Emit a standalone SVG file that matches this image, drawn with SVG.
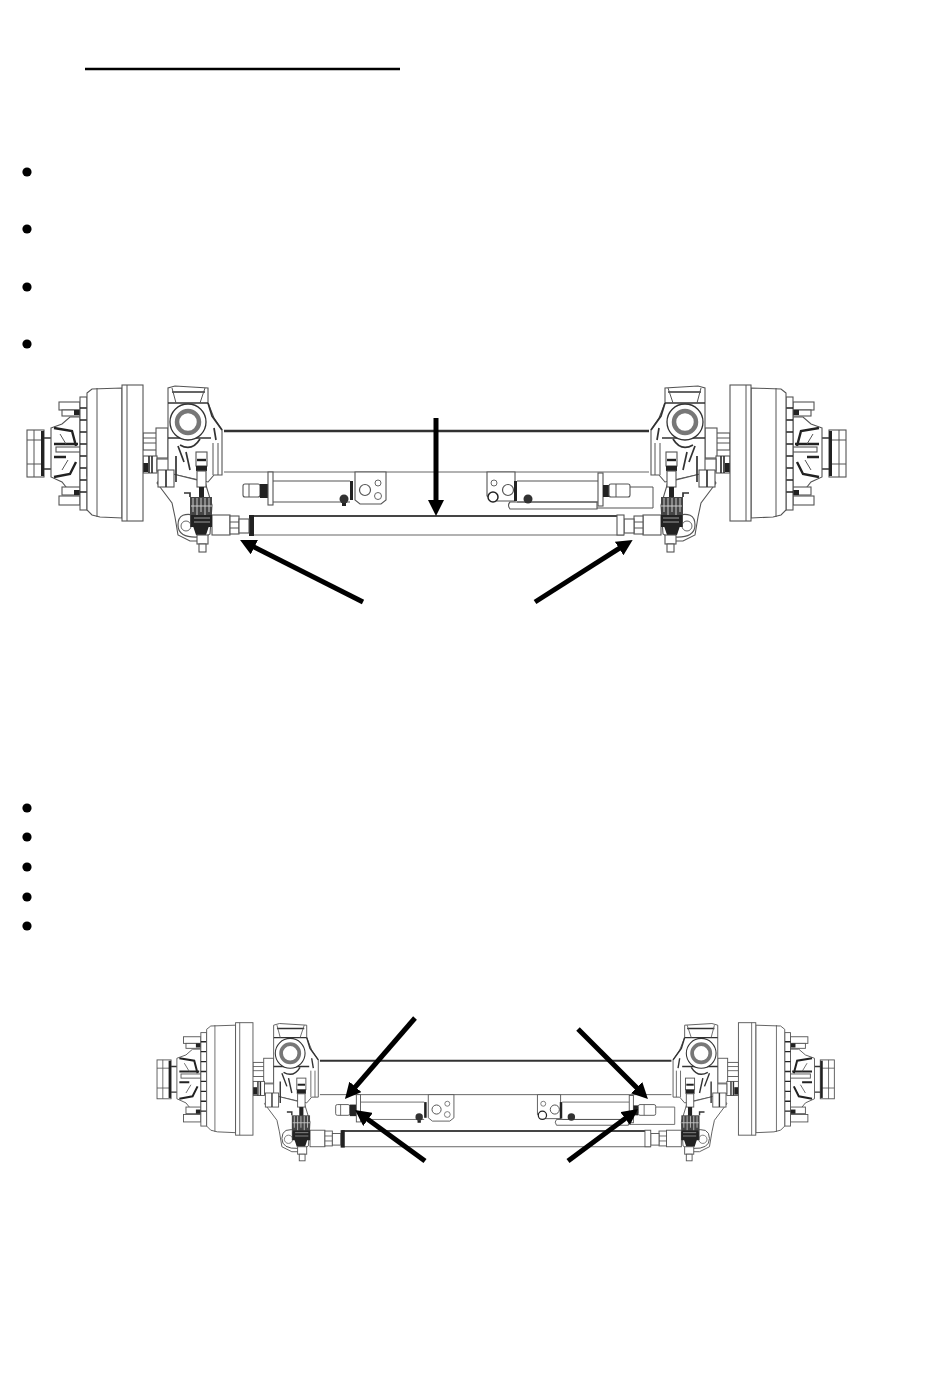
<svg xmlns="http://www.w3.org/2000/svg" xmlns:xlink="http://www.w3.org/1999/xlink" width="950" height="1378" viewBox="0 0 950 1378">
<style>
.l{fill:#fff;stroke:#555;stroke-width:1.1}
.n{fill:none;stroke:#555;stroke-width:1}
.t{fill:none;stroke:#333;stroke-width:1.7}
.h{fill:none;stroke:#222;stroke-width:2.4}
.d{fill:#222;stroke:none}
.arrow{fill:none;stroke:#000;stroke-width:5;marker-end:url(#head)}
.bullet{fill:#000}
</style>
<defs>
<marker id="head" markerUnits="userSpaceOnUse" viewBox="0 0 16 16" refX="8" refY="8" markerWidth="16" markerHeight="16" orient="auto"><path d="M0 0L16 8L0 16Z" fill="#000"/></marker>
<filter id="soft" x="-2%" y="-2%" width="104%" height="104%"><feGaussianBlur stdDeviation="0.5"/></filter>
<g id="end">
  <!-- spindle -->
  <rect class="l" x="143" y="433" width="14" height="17"/>
  <path class="n" d="M143 438H157M143 443H157"/>
  <rect class="l" x="156" y="428" width="12" height="30" stroke-width="1.4"/>
  <rect class="l" x="143" y="456" width="14" height="17" stroke-width="1.4"/>
  <rect class="d" x="143" y="463" width="5" height="9"/>
  <path class="t" d="M149 456V473M152 456V473"/>
  <rect class="l" x="157" y="459" width="16" height="12" stroke="#333" stroke-width="1.5"/>
  <!-- wheel hub -->
  <rect class="l" x="27" y="430" width="17" height="47" stroke="#444" stroke-width="1.5"/>
  <path class="n" d="M27 440H42M27 464H42M34 430V477"/>
  <rect class="d" x="41" y="431" width="3" height="45"/>
  <path class="t" d="M44 438H51M44 469H51"/>
  <path class="l" stroke="#333" stroke-width="1.5" d="M51 428L62 424L70 417H80V492H70L62 482L51 477Z"/>
  <path class="h" d="M54 428L72 431L76 446M54 477L70 474L76 462M54 444H78M54 457H66"/>
  <rect class="l" x="56" y="447" width="24" height="5"/>
  <path class="n" d="M60 434L66 444M62 470L68 460"/>
  <rect class="l" x="59" y="402" width="21" height="8" stroke="#333" stroke-width="1.5"/>
  <rect class="l" x="62" y="410" width="18" height="6"/>
  <rect class="l" x="62" y="487" width="18" height="8"/>
  <rect class="l" x="59" y="496" width="21" height="9" stroke="#333" stroke-width="1.5"/>
  <rect class="d" x="74" y="410" width="6" height="5"/>
  <rect class="d" x="74" y="490" width="6" height="5"/>
  <rect class="l" x="80" y="397" width="7" height="113" stroke="#333" stroke-width="1.6"/>
  <path d="M80 408H87M80 420H87M80 432H87M80 444H87M80 456H87M80 468H87M80 480H87M80 492H87" stroke="#222" stroke-width="1.6" fill="none"/>
  <rect class="l" x="87" y="467" width="6" height="9"/>
  <!-- drum -->
  <path class="l" stroke-width="1.4" d="M87 393L92 389L122 388V518L100 517L92 515L87 510Z"/>
  <path class="n" d="M97 388V517"/>
  <rect class="l" x="122" y="385" width="21" height="136" stroke-width="1.6"/>
  <path class="n" d="M127 385V521"/>
  <!-- knuckle -->
  <path class="l" stroke-width="1.5" d="M168 403V388L175 386L208 388V403L214 418L222 430V475H214L208 482L168 473Z"/>
  <path class="t" d="M168 403H208M172 392H205M168 438H211"/>
  <path class="n" d="M172 388L176 403M205 388L200 403M213 443V475M218 443V475"/>
  <path class="t" d="M208 403L212 416L222 430M214 428L216 440"/>
  <circle cx="188" cy="422" r="18" fill="#fff" stroke="#333" stroke-width="1.3"/>
  <circle cx="188" cy="422" r="11" fill="#fff" stroke="#777" stroke-width="4.5"/>
  <path class="t" d="M180 445Q192 452 200 439M178 446L184 462M186 452L190 470"/>
  <!-- drop arm -->
  <path class="l" stroke-width="1.3" d="M157 483L172 503L175 517L178 535L190 541L199 541L210 534L212 505L205 482L165 472Z"/>
  <rect class="l" x="158" y="470" width="16" height="17" stroke="#333" stroke-width="1.5"/>
  <path class="t" d="M166 470V487M176 456V482"/>
  <!-- eye -->
  <path d="M198 516Q178 510 178 525Q178 538 198 537" fill="none" stroke="#555" stroke-width="1.2"/>
  <circle cx="186" cy="526" r="5" fill="#fff" stroke="#666"/>
  <!-- tie rod end joint -->
  <rect class="l" x="212" y="515" width="18" height="20" stroke-width="1.4"/>
  <rect class="l" x="230" y="516" width="9" height="18" stroke="#333" stroke-width="1.5"/>
  <path class="n" d="M230 522H239M230 528H239"/>
  <rect class="l" x="239" y="519" width="10" height="14"/>
  <!-- vertical link -->
  <rect class="l" x="196" y="452" width="11" height="14" stroke="#333" stroke-width="1.7"/>
  <path class="h" d="M197 460H206"/>
  <rect class="d" x="196" y="466" width="11" height="5"/>
  <rect class="l" x="197" y="471" width="9" height="16" stroke="#222" stroke-width="2.2"/>
  <rect class="d" x="199" y="487" width="5" height="12"/>
  <rect x="190" y="497" width="22" height="30" fill="#444"/>
  <path d="M193 498V512M197 498V526M201 498V512M205 498V526M209 498V512M191 506H212M191 516H212" stroke="#ccc" stroke-width="1" fill="none"/>
  <rect class="d" x="191" y="515" width="21" height="12"/>
  <path d="M194 518H210M194 522H210" stroke="#999" stroke-width="1" fill="none"/>
  <path class="t" d="M184 493H190V497"/>
  <path class="d" d="M193 526H209L206 535H196Z"/>
  <rect class="l" x="197" y="535" width="11" height="9" stroke="#222" stroke-width="1.8"/>
  <rect class="l" x="199" y="544" width="7" height="8" stroke="#222" stroke-width="1.5"/>
</g>
<g id="axle">
  <!-- axle tube -->
  <path d="M224 431H649" stroke="#333" stroke-width="2.4" fill="none"/>
  <path d="M224 472H649" stroke="#666" stroke-width="1.2" fill="none"/>
  <!-- left cylinder -->
  <rect class="l" x="243" y="484" width="17" height="13" rx="2" stroke-width="1.5"/>
  <path class="n" d="M249 484V497"/>
  <rect class="d" x="260" y="484" width="8" height="14"/>
  <rect class="l" x="268" y="472" width="5" height="33"/>
  <path class="n" d="M273 481H350M273 502H350"/>
  <rect class="d" x="350" y="481" width="3" height="19"/>
  <path class="l" d="M355 472H386V500L381 504H360L355 500Z"/>
  <circle cx="365" cy="490" r="5.5" fill="#fff" stroke="#555" stroke-width="1.2"/>
  <circle cx="378" cy="483" r="3" fill="#fff" stroke="#666"/>
  <circle cx="378" cy="496" r="3.5" fill="#fff" stroke="#666"/>
  <circle cx="344" cy="499" r="4.5" fill="#333"/>
  <rect class="d" x="342" y="503" width="4" height="3"/>
  <!-- right cylinder -->
  <path class="l" d="M487 472H515V501H497L487 496Z"/>
  <circle cx="494" cy="483" r="3" fill="#fff" stroke="#666"/>
  <circle cx="508" cy="490" r="5.5" fill="#fff" stroke="#555" stroke-width="1.2"/>
  <circle cx="493" cy="497" r="5" fill="#fff" stroke="#222" stroke-width="1.5"/>
  <path class="l" d="M510 502H597V509H510Q507 505 510 502Z"/>
  <path class="n" d="M517 481H598M517 502H598"/>
  <rect class="d" x="514" y="481" width="3" height="20"/>
  <circle cx="528" cy="499" r="4.5" fill="#333"/>
  <rect class="l" x="598" y="473" width="5" height="33"/>
  <rect class="d" x="603" y="485" width="6" height="12"/>
  <rect class="l" x="609" y="484" width="21" height="13" rx="2" stroke-width="1.5"/>
  <path class="n" d="M616 484V497M630 487H653V508H597"/>
  <!-- tie rod -->
  <path d="M250 516H624" stroke="#444" stroke-width="2.2" fill="none"/>
  <path d="M250 535H624" stroke="#666" stroke-width="1.2" fill="none"/>
  <rect class="d" x="249" y="515" width="5" height="21"/>
  <use xlink:href="#end" href="#end"/>
  <use xlink:href="#end" href="#end" transform="translate(873 0) scale(-1 1)"/>
  <rect class="l" x="617" y="515" width="7" height="20" stroke="#222" stroke-width="1.5"/>
</g>
</defs>
<g id="title-rule"><path d="M85 69H400" stroke="#000" stroke-width="2.4" fill="none"/></g>
<g id="bullets">
  <circle class="bullet" cx="27" cy="172" r="4.6"/>
  <circle class="bullet" cx="27" cy="229" r="4.6"/>
  <circle class="bullet" cx="27" cy="287" r="4.6"/>
  <circle class="bullet" cx="27" cy="344" r="4.6"/>
  <circle class="bullet" cx="27" cy="808" r="4.6"/>
  <circle class="bullet" cx="27" cy="837" r="4.6"/>
  <circle class="bullet" cx="27" cy="867" r="4.6"/>
  <circle class="bullet" cx="27" cy="897" r="4.6"/>
  <circle class="bullet" cx="27" cy="926" r="4.6"/>
</g>
<g id="axle-top" filter="url(#soft)"><use xlink:href="#axle" href="#axle"/></g>
<g id="axle-bottom" filter="url(#soft)"><use xlink:href="#axle" href="#axle" transform="translate(134.7 704.3) scale(.827)"/></g>
<g id="connectors">
  <path class="arrow" d="M436 418V508"/>
  <path class="arrow" d="M363 602L247.2 543.6"/>
  <path class="arrow" d="M535 602L625.9 544.2"/>
  <path class="arrow" d="M415 1018L350.2 1092.9"/>
  <path class="arrow" d="M425 1161L361.5 1114.7"/>
  <path class="arrow" d="M578 1029L642.3 1093.3"/>
  <path class="arrow" d="M568 1161L631.6 1113.8"/>
</g>
</svg>
